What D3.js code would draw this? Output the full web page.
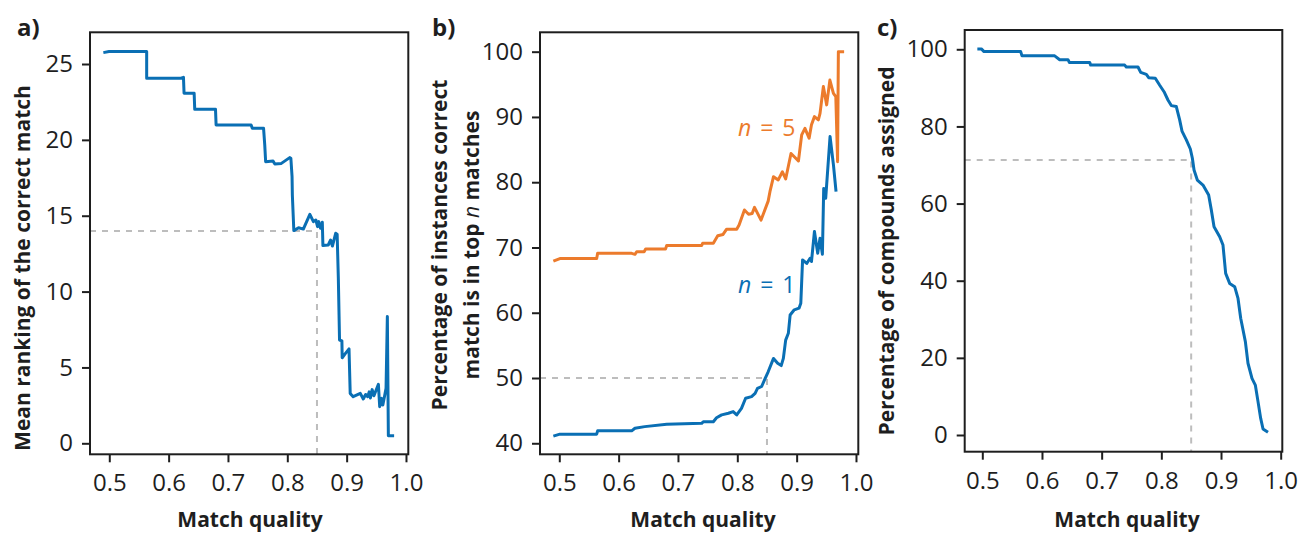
<!DOCTYPE html>
<html>
<head>
<meta charset="utf-8">
<script src="https://cdn.jsdelivr.net/npm/d3@7"></script>
<style>
  body { margin: 0; background: #fff; }
  svg { display: block; font-family: "Open Sans", sans-serif; }
</style>
</head>
<body>
<script>
// tick labels
const X_TICKS = [0.5, 0.6, 0.7, 0.8, 0.9, 1.0];
const RANK_TICKS = [0, 5, 10, 15, 20, 25];
const TOP_TICKS = [40, 50, 60, 70, 80, 90, 100];
const ASSIGN_TICKS = [0, 20, 40, 60, 80, 100];

// a) mean ranking of the correct match
const rankQuality = [0.490, 0.4995, 0.563, 0.563, 0.621, 0.625, 0.626, 0.643, 0.644, 0.679, 0.680, 0.739, 0.741, 0.760, 0.762, 0.7635, 0.776, 0.779, 0.790, 0.804, 0.806, 0.808, 0.8085, 0.811, 0.819, 0.827, 0.838, 0.844, 0.848, 0.851, 0.853, 0.856, 0.859, 0.860, 0.869, 0.873, 0.876, 0.8815, 0.884, 0.886, 0.888, 0.892, 0.8925, 0.898, 0.904, 0.906, 0.911, 0.923, 0.928, 0.932, 0.9355, 0.938, 0.940, 0.943, 0.946, 0.9535, 0.9557, 0.959, 0.961, 0.9664, 0.9686, 0.9703, 0.980];
const rankMean = [25.75, 25.82, 25.82, 24.06, 24.06, 24.12, 23.07, 23.07, 22.01, 22.01, 20.98, 20.98, 20.76, 20.76, 19.66, 18.56, 18.6, 18.41, 18.45, 18.83, 18.79, 17.58, 16.37, 14.02, 14.21, 14.12, 15.09, 14.61, 14.72, 14.28, 14.61, 14.17, 14.57, 13.03, 13.07, 13.4, 13.0, 13.84, 13.78, 10.87, 6.81, 6.75, 5.64, 5.93, 6.22, 3.29, 3.07, 3.29, 2.92, 3.22, 3.07, 3.39, 2.99, 3.54, 3.13, 3.89, 2.41, 2.96, 2.52, 3.62, 8.35, 0.5, 0.5];

// b) percentage correct in top n
const topQuality5 = [0.490, 0.501, 0.563, 0.5646, 0.622, 0.6275, 0.6304, 0.643, 0.6455, 0.679, 0.681, 0.740, 0.7416, 0.7596, 0.767, 0.776, 0.782, 0.799, 0.803, 0.812, 0.819, 0.825, 0.829, 0.840, 0.852, 0.855, 0.861, 0.869, 0.876, 0.8815, 0.8905, 0.896, 0.903, 0.9085, 0.914, 0.921, 0.925, 0.930, 0.9366, 0.9394, 0.945, 0.9506, 0.956, 0.962, 0.966, 0.969, 0.9703, 0.980];
const top5 = [67.9, 68.3, 68.3, 69.1, 69.1, 68.95, 69.35, 69.35, 69.75, 69.75, 70.3, 70.3, 70.65, 70.65, 71.8, 72.0, 72.8, 72.8, 73.45, 75.75, 75.1, 75.2, 76.15, 74.2, 77.1, 78.55, 80.85, 80.35, 81.6, 80.5, 84.4, 83.9, 83.25, 87.25, 88.25, 86.75, 88.8, 90.05, 89.55, 90.55, 94.65, 91.85, 95.65, 93.6, 93.1, 83.15, 100, 100];
const topQuality1 = [0.490, 0.501, 0.563, 0.5646, 0.622, 0.6275, 0.644, 0.681, 0.740, 0.7427, 0.7596, 0.765, 0.7736, 0.785, 0.793, 0.799, 0.807, 0.814, 0.824, 0.830, 0.834, 0.841, 0.847, 0.852, 0.861, 0.868, 0.874, 0.8776, 0.8815, 0.886, 0.889, 0.896, 0.904, 0.907, 0.910, 0.917, 0.9226, 0.925, 0.930, 0.9355, 0.9394, 0.9434, 0.9456, 0.949, 0.9563, 0.962, 0.9664];
const top1 = [41.1, 41.4, 41.4, 41.9, 41.9, 42.3, 42.55, 42.9, 43.05, 43.3, 43.3, 43.9, 44.35, 44.6, 44.85, 44.35, 45.35, 46.9, 47.15, 47.65, 48.4, 48.7, 49.95, 50.95, 53.0, 52.25, 51.9, 53.0, 55.8, 56.85, 59.65, 60.45, 60.7, 61.45, 68.1, 67.55, 68.35, 67.85, 72.45, 69.1, 71.4, 68.95, 79.05, 77.55, 87.0, 82.65, 78.55];

// c) percentage of compounds assigned
const assignQuality = [0.4917, 0.4984, 0.5029, 0.5643, 0.5665, 0.6213, 0.6297, 0.6436, 0.6458, 0.6799, 0.6816, 0.7386, 0.7413, 0.7609, 0.7654, 0.7749, 0.7788, 0.7899, 0.797, 0.8045, 0.8111, 0.8167, 0.8251, 0.8307, 0.8346, 0.8419, 0.8486, 0.852, 0.8548, 0.8603, 0.8698, 0.8793, 0.8838, 0.8883, 0.8978, 0.9033, 0.9078, 0.9145, 0.9229, 0.9285, 0.933, 0.9408, 0.9452, 0.9519, 0.9575, 0.962, 0.9665, 0.9704, 0.9787];
const assignPct = [100.1, 100.1, 99.4, 99.4, 98.3, 98.3, 97.3, 97.3, 96.6, 96.6, 95.9, 95.9, 95.4, 95.4, 94.0, 93.5, 92.65, 92.5, 90.75, 89.0, 86.85, 85.4, 85.15, 81.7, 78.8, 76.5, 74.15, 71.75, 68.7, 66.1, 64.8, 62.2, 58.3, 54.0, 51.4, 49.25, 41.9, 39.3, 38.45, 35.4, 30.25, 24.2, 18.6, 14.7, 12.95, 8.65, 4.3, 1.55, 0.7];

// dashed guides: [match quality, value]
const rankGuide = [0.85, 14];
const topGuide = [0.85, 50];
const assignGuide = [0.85, 71.3];

const BLUE = '#0a6fb4';
const ORANGE = '#ec7b2c';
const INK = '#1e1e1e';

const svg = d3.select('body').append('svg')
    .attr('width', 1301)
    .attr('height', 533);

function drawPanel(p) {
    const x = d3.scaleLinear().domain(p.xDomain).range([p.left, p.right]);
    const y = d3.scaleLinear().domain(p.yDomain).range([p.bottom, p.top]);
    const g = svg.append('g');

    // guide lines
    g.append('path')
        .attr('d', `M${p.left},${y(p.guide[1])}H${x(p.guide[0])}V${p.bottom}`)
        .attr('fill', 'none')
        .attr('stroke', '#bdbdbd')
        .attr('stroke-width', 2)
        .attr('stroke-dasharray', '6,6');

    const yAxis = g.append('g')
        .attr('transform', `translate(${p.left},0)`)
        .call(d3.axisLeft(y).tickValues(p.yTicks).tickSize(8).tickSizeOuter(0).tickPadding(9).tickFormat(d3.format('d')));
    const xAxis = g.append('g')
        .attr('transform', `translate(0,${p.bottom})`)
        .call(d3.axisBottom(x).tickValues(X_TICKS).tickSize(8).tickSizeOuter(0).tickPadding(12).tickFormat(d3.format('.1f')));

    [yAxis, xAxis].forEach(ax => {
        ax.select('.domain').remove();
        ax.selectAll('.tick line').attr('stroke', INK).attr('stroke-width', 2);
        ax.selectAll('.tick text')
            .attr('fill', INK)
            .style('font-size', '24px')
            .style('font-family', '"Open Sans", sans-serif');
    });

    // frame
    g.append('rect')
        .attr('x', p.left)
        .attr('y', p.top)
        .attr('width', p.right - p.left)
        .attr('height', p.bottom - p.top)
        .attr('fill', 'none')
        .attr('stroke', INK)
        .attr('stroke-width', 2);

    const line = d3.line().x(d => x(d[0])).y(d => y(d[1]));
    p.series.forEach(s => {
        g.append('path')
            .datum(s.q.map((q, i) => [q, s.v[i]]))
            .attr('d', line)
            .attr('fill', 'none')
            .attr('stroke', s.color)
            .attr('stroke-width', 3)
            .attr('stroke-linejoin', 'round');
    });

    // panel letter
    g.append('text')
        .attr('x', p.letterX)
        .attr('y', 36)
        .attr('fill', INK)
        .style('font-size', '24px')
        .style('font-weight', 'bold')
        .text(p.letter);

    // x label
    g.append('text')
        .attr('x', p.xLabelX)
        .attr('y', 527)
        .attr('text-anchor', 'middle')
        .attr('fill', INK)
        .style('font-size', '21px')
        .style('font-weight', 'bold')
        .text('Match quality');

    return {x, y, g};
}

// rotated axis title, one entry per line
function yLabel(lines, cy) {
    lines.forEach(l => {
        const t = svg.append('text')
            .attr('transform', `translate(${l.x},${cy}) rotate(-90)`)
            .attr('text-anchor', 'middle')
            .attr('fill', INK)
            .style('font-size', '21px')
            .style('font-weight', 'bold');
        l.parts.forEach(part => {
            t.append('tspan')
                .style('font-style', part.italic ? 'italic' : 'normal')
                .style('font-weight', part.italic ? 'normal' : 'bold')
                .text(part.text);
        });
    });
}

// a)
drawPanel({
    left: 90, right: 408.3, top: 32.3, bottom: 454.3,
    xDomain: [0.4675, 1.0039], yDomain: [-0.725, 27.09],
    yTicks: RANK_TICKS, guide: rankGuide,
    series: [{q: rankQuality, v: rankMean, color: BLUE}],
    letter: 'a)', letterX: 17, xLabelX: 250
});
yLabel([{x: 30, parts: [{text: 'Mean ranking of the correct match'}]}], 268);

// b)
const pb = drawPanel({
    left: 540, right: 858.3, top: 32.3, bottom: 454.3,
    xDomain: [0.4675, 1.0039], yDomain: [38.31, 102.97],
    yTicks: TOP_TICKS, guide: topGuide,
    series: [
        {q: topQuality1, v: top1, color: BLUE},
        {q: topQuality5, v: top5, color: ORANGE}
    ],
    letter: 'b)', letterX: 432, xLabelX: 703
});
yLabel([
    {x: 447, parts: [{text: 'Percentage of instances correct'}]},
    {x: 479, parts: [{text: 'match is in top '}, {text: 'n', italic: true}, {text: ' matches'}]}
], 245);

[{label: '5', color: ORANGE, y: 136}, {label: '1', color: BLUE, y: 293}].forEach(d => {
    const t = pb.g.append('text')
        .attr('x', 738)
        .attr('y', d.y)
        .attr('fill', d.color)
        .style('font-size', '23px')
        .style('word-spacing', '3px');
    t.append('tspan').style('font-style', 'italic').text('n');
    t.append('tspan').text(' = ' + d.label);
});

// c)
drawPanel({
    left: 964.7, right: 1282.3, top: 30, bottom: 451.7,
    xDomain: [0.4705, 1.0027], yDomain: [-4.33, 105.0],
    yTicks: ASSIGN_TICKS, guide: assignGuide,
    series: [{q: assignQuality, v: assignPct, color: BLUE}],
    letter: 'c)', letterX: 877, xLabelX: 1127
});
yLabel([{x: 894, parts: [{text: 'Percentage of compounds assigned'}]}], 251);
</script>
</body>
</html>
